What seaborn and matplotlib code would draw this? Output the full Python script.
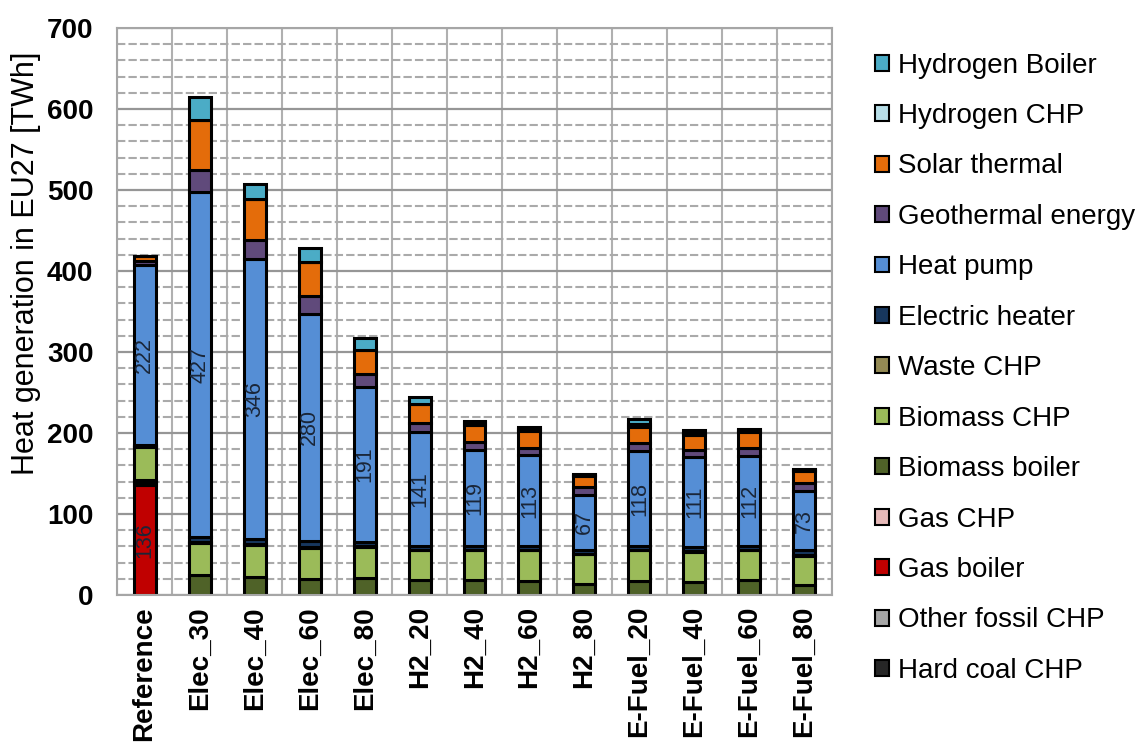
import numpy as np
import matplotlib
matplotlib.use('Agg')
import matplotlib.pyplot as plt
import seaborn as sns
from matplotlib.ticker import MultipleLocator

sns.set_style('white')
plt.rcParams['font.family'] = ['Liberation Sans', 'DejaVu Sans']
plt.rcParams['text.color'] = 'black'
plt.rcParams['axes.labelcolor'] = 'black'

# --- Data (TWh) ---
scenarios = ['Reference', 'Elec_30', 'Elec_40', 'Elec_60', 'Elec_80',
             'H2_20', 'H2_40', 'H2_60', 'H2_80',
             'E-Fuel_20', 'E-Fuel_40', 'E-Fuel_60', 'E-Fuel_80']

hard_coal_chp    = [0, 0, 0, 0, 0, 0, 0, 0, 0, 0, 0, 0, 0]
other_fossil_chp = [0, 0, 0, 0, 0, 0, 0, 0, 0, 0, 0, 0, 0]
gas_boiler       = [136, 0, 0, 0, 0, 0, 0, 0, 0, 0, 0, 0, 0]
gas_chp          = [3, 0, 0, 0, 0, 0, 0, 0, 0, 0, 0, 0, 0]
biomass_boiler   = [3, 25, 22, 20, 21, 19, 19, 17, 14, 17, 16, 18, 12]
biomass_chp      = [41, 39, 40, 38, 38, 36, 36, 38, 36, 38, 37, 37, 36]
waste_chp        = [1, 1, 1, 1, 1, 1, 1, 1, 1, 1, 1, 1, 1]
electric_heater  = [1, 6, 6, 8, 6, 4, 4, 4, 5, 4, 5, 4, 6]
heat_pump        = [222, 427, 346, 280, 191, 141, 119, 113, 67, 118, 111, 112, 73]
geothermal       = [5, 27, 23, 22, 16, 11, 10, 9, 10, 10, 9, 10, 10]
solar_thermal    = [6, 62, 51, 42, 30, 24, 21, 20, 14, 20, 19, 19, 15]
hydrogen_chp     = [0, 0, 0, 0, 0, 0, 3, 3, 1, 3, 2, 3, 1]
hydrogen_boiler  = [0, 28, 19, 17, 14, 8, 2, 2, 1, 6, 4, 1, 1]

# stacking order, bottom to top
tech_names = ['Hard coal CHP', 'Other fossil CHP', 'Gas boiler', 'Gas CHP',
              'Biomass boiler', 'Biomass CHP', 'Waste CHP', 'Electric heater',
              'Heat pump', 'Geothermal energy', 'Solar thermal',
              'Hydrogen CHP', 'Hydrogen Boiler']
series = [hard_coal_chp, other_fossil_chp, gas_boiler, gas_chp,
          biomass_boiler, biomass_chp, waste_chp, electric_heater,
          heat_pump, geothermal, solar_thermal, hydrogen_chp, hydrogen_boiler]
colors = ['#262626', '#a6a6a6', '#c00000', '#e6b9b8',
          '#4f6228', '#9bbb59', '#948a54', '#17375e',
          '#558ed5', '#604a7b', '#e46c0a', '#b7dee8', '#4bacc6']

fig, ax = plt.subplots(figsize=(11.42, 7.47), dpi=100)
fig.subplots_adjust(left=0.1025, right=0.7285, bottom=0.2035, top=0.9625)

bottom = np.zeros(len(scenarios))
hp_bottom = None
for name, vals, col in zip(tech_names, series, colors):
    if name == 'Heat pump':
        hp_bottom = bottom.copy()
    sns.barplot(x=scenarios, y=vals, bottom=bottom, color=col, saturation=1,
                width=0.4, edgecolor='black', linewidth=2.2, errorbar=None,
                label=name, ax=ax)
    bottom = bottom + np.array(vals)

for p in ax.patches:
    p.set_linewidth(2.2)
    p.set_edgecolor('black')

# data labels (heat pump and gas boiler)
label_color = '#1a2638'
for i in range(len(scenarios)):
    ax.text(i, hp_bottom[i] + heat_pump[i] / 2, str(heat_pump[i]), rotation=90,
            ha='center', va='center', fontsize=15.5, color=label_color)
    if gas_boiler[i] > 0:
        ax.text(i, gas_boiler[i] / 2, str(gas_boiler[i]), rotation=90,
                ha='center', va='center', fontsize=15.5, color=label_color)

# axes, grid
ax.set_xlim(-0.5, len(scenarios) - 0.5)
ax.set_ylim(0, 700)
ax.yaxis.set_major_locator(MultipleLocator(100))
ax.yaxis.set_minor_locator(MultipleLocator(20))
ax.set_xticks(np.arange(-0.5, len(scenarios), 1), minor=True)
ax.set_axisbelow(True)
ax.grid(which='major', axis='y', color='#969696', lw=1.6, ls='-')
ax.grid(which='minor', axis='y', color='#aaaaaa', lw=1.5, ls=(0, (4, 1.5)))
ax.grid(which='minor', axis='x', color='#b0b0b0', lw=1.5, ls='-')
ax.grid(which='major', axis='x', visible=False)
for sp in ax.spines.values():
    sp.set_color('#a6a6a6')
    sp.set_linewidth(1.5)

ax.tick_params(axis='x', which='major', length=0, pad=8, labelcolor='black')
ax.tick_params(axis='x', which='minor', length=7, width=1.5, color='#a6a6a6', direction='out')
ax.tick_params(axis='y', which='both', length=0, pad=17, labelcolor='black')
ax.set_xticks(range(len(scenarios)))
ax.set_xticklabels(scenarios, rotation=90, fontsize=20, fontweight='bold')
for lbl in ax.get_yticklabels():
    lbl.set_fontsize(20)
    lbl.set_fontweight('bold')
ax.set_xlabel('')
ax.set_ylabel('Heat generation in EU27 [TWh]', fontsize=22)
ax.yaxis.set_label_coords(-0.106, 0.585)

# legend, top entry first
handles, labels = ax.get_legend_handles_labels()
leg = ax.legend(handles[::-1], labels[::-1], loc='center left',
                bbox_to_anchor=(0.766, 0.507), bbox_transform=fig.transFigure,
                frameon=False, fontsize=20, handlelength=0.5, handleheight=0.5,
                handletextpad=0.35, labelspacing=0.88, borderpad=0, borderaxespad=0)
for h in leg.legend_handles:
    h.set_linewidth(1.5)

plt.savefig('out.png', dpi=100)
